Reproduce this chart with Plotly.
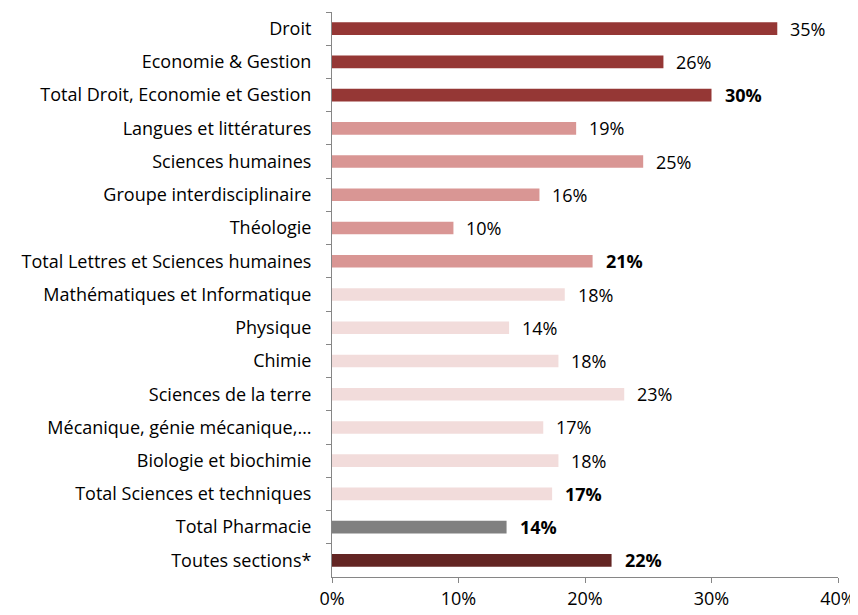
import plotly.graph_objects as go

categories = [
    "Droit",
    "Economie & Gestion",
    "Total Droit, Economie et Gestion",
    "Langues et littératures",
    "Sciences humaines",
    "Groupe interdisciplinaire",
    "Théologie",
    "Total Lettres et Sciences humaines",
    "Mathématiques et Informatique",
    "Physique",
    "Chimie",
    "Sciences de la terre",
    "Mécanique, génie mécanique,…",
    "Biologie et biochimie",
    "Total Sciences et techniques",
    "Total Pharmacie",
    "Toutes sections*",
]
values = [0.352, 0.262, 0.300, 0.193, 0.246, 0.164, 0.096, 0.206,
          0.184, 0.140, 0.179, 0.231, 0.167, 0.179, 0.174, 0.138, 0.221]
is_total = [False, False, True, False, False, False, False, True,
            False, False, False, False, False, False, True, True, True]
groups = ["eco", "eco", "eco", "let", "let", "let", "let", "let",
          "sci", "sci", "sci", "sci", "sci", "sci", "sci", "pha", "all"]
group_colors = {"eco": "#953735", "let": "#D99694", "sci": "#F2DCDB",
                "pha": "#808080", "all": "#632523"}
x_ticks = [0, 0.1, 0.2, 0.3, 0.4]
x_tick_labels = ["0%", "10%", "20%", "30%", "40%"]

FONT = "Open Sans, sans-serif"
FSIZE = 18

fig = go.Figure()
fig.add_trace(go.Bar(
    y=categories,
    x=values,
    orientation="h",
    marker=dict(color=[group_colors[g] for g in groups], line=dict(width=0)),
    hoverinfo="x+y",
))

for cat, v, tot in zip(categories, values, is_total):
    lbl = f"{round(v * 100)}%"
    if tot:
        lbl = f"<b>{lbl}</b>"
    fig.add_annotation(x=v, y=cat, text=lbl, showarrow=False,
                       xanchor="left", yanchor="middle", xshift=11,
                       font=dict(family=FONT, size=FSIZE, color="#000000"))

# page body has an 8px margin: figure spans 8..858 x 8..615 on screen
fig.update_layout(
    width=850, height=607,
    margin=dict(l=324, r=20, t=4, b=38),
    paper_bgcolor="white", plot_bgcolor="white",
    bargap=0.62,
    showlegend=False,
    font=dict(family=FONT, size=FSIZE, color="#000000"),
)
fig.update_yaxes(
    categoryorder="array", categoryarray=categories, autorange="reversed",
    showline=True, linecolor="#868686", linewidth=1,
    ticks="outside", ticklen=5, tickcolor="#868686", tickson="boundaries",
    ticklabelstandoff=16, showgrid=False, automargin=False,
)
fig.update_xaxes(
    range=[0, 0.4], tickvals=x_ticks, ticktext=x_tick_labels,
    showline=True, linecolor="#868686", linewidth=1,
    ticks="outside", ticklen=5, tickcolor="#868686",
    showgrid=False, zeroline=False, automargin=False,
)

fig.write_html("out.html")
